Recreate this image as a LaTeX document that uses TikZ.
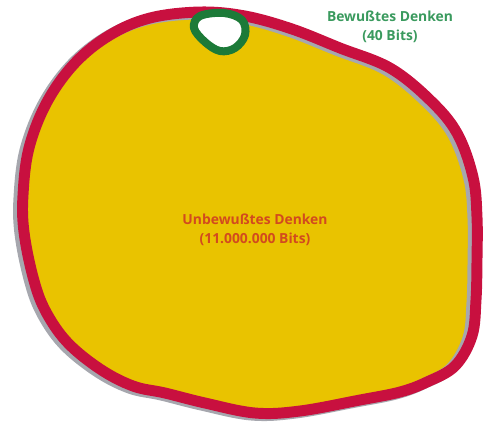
\documentclass[tikz,border=0pt]{standalone}
\usepackage{fontspec}
\setmainfont{Open Sans}
\usepackage{xcolor}
\usetikzlibrary{positioning}
\definecolor{mindyellow}{HTML}{E9C300}
\definecolor{mindred}{HTML}{C8103F}
\definecolor{mindgray}{HTML}{A6A7AE}
\definecolor{ringgreen}{HTML}{1C7A38}
\definecolor{textgreen}{HTML}{3A9A5E}
\definecolor{textred}{HTML}{D24A1E}

\begin{document}
\begin{tikzpicture}[
    x=0.75pt, y=-0.75pt,
    bitstext/.style={font=\bfseries\fontsize{10.4}{14}\selectfont, align=center},
    rim/.style={line width=8.2pt, line join=round},
    pics/mind/.style={code={
      \path[pic actions] plot[smooth cycle, tension=0.6] coordinates {
        (200,12) (245,16) (292,29) (340,48) (390,68) (430,100) (457,133)
        (473,177) (477,217) (477,260) (476,300) (472,336) (455,366) (427,382)
        (400,392) (360,400) (300,411) (255,413) (205,403) (165,393) (133,386)
        (100,369) (67,342) (45,310) (33,277) (24,232) (23,195) (29,148)
        (47,102) (75,63) (110,35) (150,18)};
    }}
]
\useasboundingbox (0,0) rectangle (483,426);

% unconscious area with shadow and rim
\pic[fill=mindyellow] at (0,0) {mind};
\pic[rim, draw=mindgray] at (-4,2) {mind};
\pic[rim, draw=mindred] at (0,0) {mind};

% conscious area
\draw[ringgreen, line width=6pt, fill=white] plot[smooth cycle, tension=0.6] coordinates {
    (200,16) (224,13) (242,20) (245,35) (235,48) (220,51) (205,42) (194,28)};

\node[bitstext, text=textgreen] (conscious) at (390,27) {Bewußtes Denken\\(40 Bits)};
\node[bitstext, text=textred] (unconscious) at (255,230) {Unbewußtes Denken\\(11.000.000 Bits)};

\end{tikzpicture}
\end{document}
